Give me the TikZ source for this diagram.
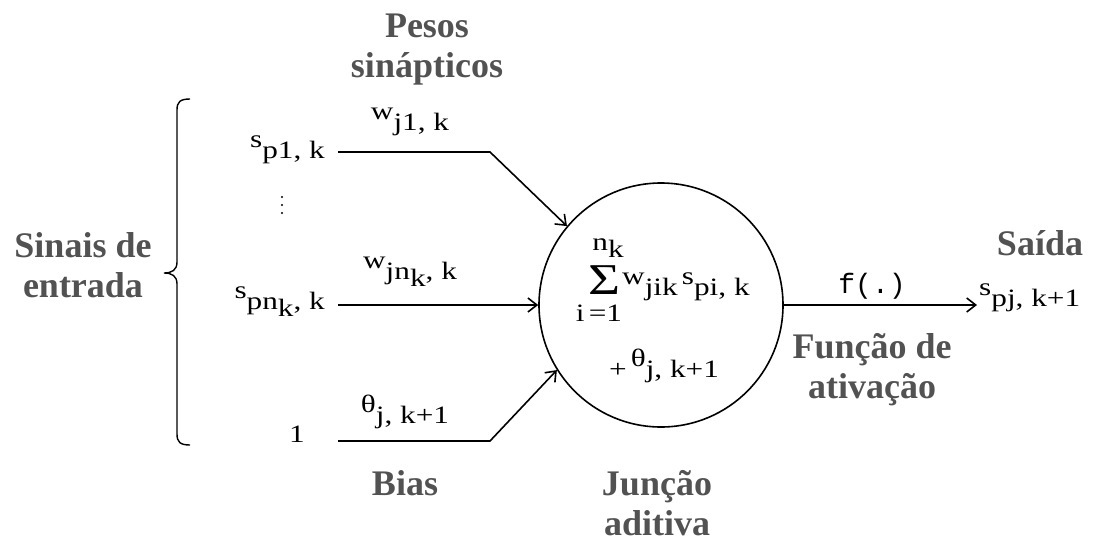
\documentclass[tikz,border=0pt]{standalone}
\usepackage{fontspec}
\setmainfont{Liberation Serif}
\newfontfamily\labfont[FakeStretch=1.25]{Liberation Serif}
\newfontfamily\codefont{Liberation Mono}
\usetikzlibrary{arrows.meta, positioning}
\definecolor{LabelGray}{RGB}{82, 82, 82}
\newcommand{\rsub}[2]{\raisebox{.42em}{#1}#2}
\newcommand{\lowk}{\raisebox{-.3em}{k}}

\begin{document}
\begin{tikzpicture}[x=1pt, y=-1pt, >={Straight Barb[length=9pt, width=14pt]},
    title/.style={font=\fontsize{36}{40}\selectfont\bfseries, text=LabelGray, align=center},
    lab/.style={font=\fontsize{25}{28}\selectfont\labfont, inner sep=2pt},
    input/.style={lab, anchor=east, inner xsep=13pt},
    wire/.style={line width=1.6pt}]
    \useasboundingbox (0,0) rectangle (1094,541);
    % neuron and its sum
    \node[draw, circle, line width=1.6pt, minimum size=244pt] (neuron) at (661,305) {};
    \node[lab, font=\fontsize{44}{46}\selectfont\labfont, inner sep=0pt] (sigma) at (604,280) {Σ};
    \node[lab, inner sep=0pt] (nk) at (608,248) {n\lowk};
    \node[lab, inner sep=0pt] (i1) at (599,313) {i\,=1};
    \node[lab, anchor=west] (wsum) at (620,287) {\rsub{w}{jik}\,\rsub{s}{pi, k}};
    \node[lab] (bias in) at (664,366) {+\,\rsub{θ}{j, k+1}};
    % inputs
    \node[input] (sp1) at (338,150) {\rsub{s}{p1, k}};
    \foreach \y in {197,205,213}
        \fill (282,\y) circle (1.1pt);
    \node[input] (spn) at (338,302) {\rsub{s}{pn\lowk, k}};
    \node[input, inner xsep=33pt] (one) at (338,434) {1};
    \coordinate (b1) at (490,152);
    \coordinate (b3) at (490,441);
    \draw[wire, ->] (sp1.east |- b1) -- (b1) -- (neuron.140);
    \draw[wire, ->] (spn.east |- neuron.west) -- (neuron.west);
    \draw[wire, ->] (one.east |- b3) -- (b3) -- (neuron.212);
    \node[lab] (w1) at (410,122) {\rsub{w}{j1, k}};
    \node[lab] (wn) at (410,272) {\rsub{w}{jn\lowk, k}};
    \node[lab] (theta) at (405,412) {\rsub{θ}{j, k+1}};
    % output
    \node[lab, anchor=west] (spj) at (977,298) {\rsub{s}{pj, k+1}};
    \draw[wire, ->] (neuron.east) -- (spj.west |- neuron.east);
    \node[font=\fontsize{28}{30}\selectfont\codefont] (fdot) at (872,286) {f(.)};
    % bold captions
    \node[title] (pesos) at (427,50) {Pesos\\sinápticos};
    \node[title] (sinais) at (83,265) {Sinais de\\entrada};
    \node[title] (biaslab) at (405,483) {Bias};
    \node[title] (juncao) at (657,503) {Junção\\aditiva};
    \node[title] (funcao) at (872,370) {Função de\\ativação};
    \node[title] (saida) at (1040,243) {Saída};
    \draw[line width=1.4pt] (190,99) .. controls (180,99) and (177,102) .. (177,110)
        -- (177,262) .. controls (177,270) and (172,273) .. (164,273)
        .. controls (172,273) and (177,276) .. (177,284)
        -- (177,434) .. controls (177,442) and (180,445) .. (190,445);
\end{tikzpicture}
\end{document}
